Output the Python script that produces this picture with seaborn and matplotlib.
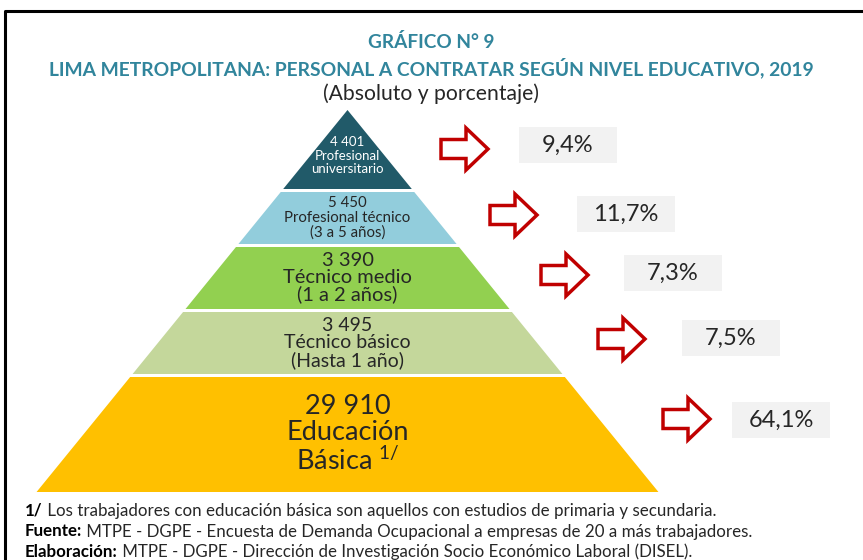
import numpy as np
import matplotlib
matplotlib.use("Agg")
import matplotlib.pyplot as plt
import seaborn as sns

# datos
niveles = ["Profesional\nuniversitario", "Profesional técnico\n(3 a 5 años)",
           "Técnico medio\n(1 a 2 años)", "Técnico básico\n(Hasta 1 año)",
           "Educación\nBásica $^{\\mathrm{1/}}$"]
absolutos = [4401, 5450, 3390, 3495, 29910]
porcentajes = [9.4, 11.7, 7.3, 7.5, 64.1]
colores = ["#215A69", "#92CDDC", "#92D050", "#C4D79B", "#FFC000"]
color_texto = ["white", "#262626", "#262626", "#262626", "#262626"]

titulo1 = "GRÁFICO N° 9"
titulo2 = "LIMA METROPOLITANA: PERSONAL A CONTRATAR SEGÚN NIVEL EDUCATIVO, 2019"
titulo3 = "(Absoluto y porcentaje)"
notas = [("1/", " Los trabajadores con educación básica son aquellos con estudios de primaria y secundaria."),
         ("Fuente:", " MTPE - DGPE - Encuesta de Demanda Ocupacional a empresas de 20 a más trabajadores."),
         ("Elaboración:", " MTPE - DGPE - Dirección de Investigación Socio Económico Laboral (DISEL).")]

# layout (pixeles)
apex_x, apex_y, pendiente = 347.5, 110, 0.814
capas = [(110, 189), (192, 244), (247, 309), (312, 374), (377, 492)]
tam_texto = [9.5, 10.8, 14.5, 14, 19.5]
interlineado = [1.12, 1.03, 0.97, 0.99, 1.08]
flechas = [(441, 149), (490, 215), (541, 275), (598, 339), (663, 419)]
cajas = [(519, 127), (577, 196), (624, 255), (682, 320), (732, 402)]

sns.set_theme(style="white")
plt.rcParams['font.family'] = ['Lato', 'DejaVu Sans']
plt.rcParams['mathtext.fontset'] = 'custom'
plt.rcParams['mathtext.rm'] = 'Lato'

fig = plt.figure(figsize=(8.63, 5.6), dpi=100)
ax = fig.add_axes([0, 0, 1, 1])
ax.set_xlim(0, 863)
ax.set_ylim(560, 0)
ax.axis('off')

# marco
ax.plot([5, 5, 863], [560, 11, 11], color='black', lw=2.2, clip_on=False)

# titulos
teal = "#31859C"
ax.text(431, 42, titulo1, ha='center', va='center', fontsize=13.7, fontweight='bold', color=teal)
ax.text(431, 68, titulo2, ha='center', va='center', fontsize=13.9, fontweight='bold', color=teal)
ax.text(431, 94, titulo3, ha='center', va='center', fontsize=15.2, color='#262626')

# piramide
for i, (y0, y1) in enumerate(capas):
    w0 = pendiente * (y0 - apex_y)
    w1 = pendiente * (y1 - apex_y)
    xs = [apex_x - w0, apex_x + w0, apex_x + w1, apex_x - w1]
    ys = [y0, y0, y1, y1]
    ax.fill(xs, ys, color=colores[i], lw=0)
    etiqueta = f"{absolutos[i]:,}".replace(",", " ") + "\n" + niveles[i]
    ax.text(apex_x, (y0 + y1) / 2 + (6 if i == 0 else 0), etiqueta, ha='center', va='center',
            fontsize=tam_texto[i], color=color_texto[i], linespacing=interlineado[i])

# flechas y porcentajes
for i, ((fx, fy), (bx, by)) in enumerate(zip(flechas, cajas)):
    L, H, hs, cab = 47, 42, 19, 25
    px = [fx, fx + cab, fx + cab, fx + L, fx + cab, fx + cab, fx, fx]
    py = [fy - hs / 2, fy - hs / 2, fy - H / 2, fy, fy + H / 2, fy + hs / 2, fy + hs / 2, fy - hs / 2]
    ax.fill(px, py, facecolor='white', edgecolor='#C00000', lw=2.5, joinstyle='miter')
    ax.add_patch(plt.Rectangle((bx, by), 98, 36, facecolor='#F2F2F2', edgecolor='none'))
    ax.text(bx + 49, by + 18, f"{porcentajes[i]:.1f}%".replace(".", ","), ha='center', va='center',
            fontsize=17, color='#262626')

# notas
for j, (neg, resto) in enumerate(notas):
    t = ax.text(25, 511 + 20.5 * j, neg, ha='left', va='center', fontsize=12.2,
                fontweight='bold', color='black')
    ax.annotate(resto, xy=(1, 0), xycoords=t, ha='left', va='bottom', fontsize=12.2, color='#262626')

fig.savefig("out.png", dpi=100)
